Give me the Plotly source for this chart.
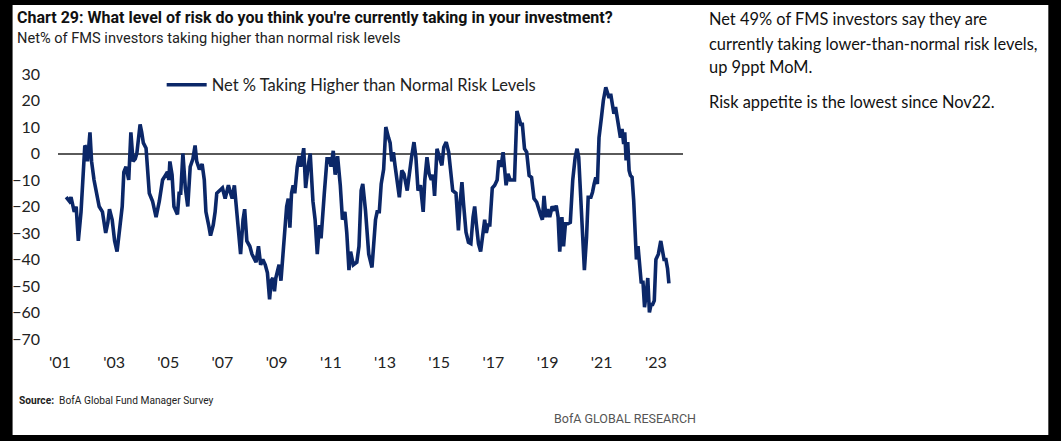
import plotly.graph_objects as go

# ---- data (decimal year, net %) ----
years = [
    2001.23, 2001.35, 2001.41, 2001.47, 2001.53, 2001.60, 2001.68, 2001.78, 2001.86, 2001.92,
    2001.98, 2002.02, 2002.11, 2002.17, 2002.26, 2002.36, 2002.45, 2002.57, 2002.69, 2002.77,
    2002.83, 2002.93, 2003.02, 2003.11, 2003.23, 2003.30, 2003.36, 2003.44, 2003.54, 2003.62,
    2003.70, 2003.78, 2003.84, 2003.96, 2004.02, 2004.08, 2004.18, 2004.30, 2004.42, 2004.55,
    2004.67, 2004.79, 2004.91, 2004.97, 2005.02, 2005.06, 2005.14, 2005.21, 2005.34, 2005.40,
    2005.46, 2005.54, 2005.63, 2005.72, 2005.81, 2005.91, 2005.99, 2006.05, 2006.15, 2006.25,
    2006.33, 2006.39, 2006.49, 2006.56, 2006.66, 2006.73, 2006.79, 2006.91, 2007.00, 2007.10,
    2007.22, 2007.30, 2007.36, 2007.44, 2007.48, 2007.58, 2007.67, 2007.76, 2007.82, 2007.90,
    2008.01, 2008.09, 2008.19, 2008.24, 2008.33, 2008.41, 2008.49, 2008.58, 2008.66, 2008.74,
    2008.80, 2008.86, 2008.92, 2008.97, 2009.04, 2009.09, 2009.16, 2009.25, 2009.31, 2009.37,
    2009.43, 2009.49, 2009.55, 2009.61, 2009.67, 2009.76, 2009.83, 2009.89, 2010.00, 2010.07,
    2010.16, 2010.24, 2010.34, 2010.42, 2010.50, 2010.58, 2010.64, 2010.70, 2010.76, 2010.86,
    2010.95, 2011.01, 2011.09, 2011.16, 2011.25, 2011.35, 2011.43, 2011.52, 2011.59, 2011.67,
    2011.73, 2011.83, 2011.96, 2012.04, 2012.12, 2012.18, 2012.28, 2012.40, 2012.52, 2012.65,
    2012.71, 2012.79, 2012.86, 2012.95, 2013.03, 2013.13, 2013.19, 2013.25, 2013.31, 2013.37,
    2013.46, 2013.53, 2013.62, 2013.70, 2013.82, 2013.92, 2013.98, 2014.07, 2014.14, 2014.22,
    2014.31, 2014.41, 2014.47, 2014.55, 2014.63, 2014.71, 2014.77, 2014.83, 2014.92, 2015.01,
    2015.10, 2015.17, 2015.26, 2015.35, 2015.42, 2015.50, 2015.62, 2015.71, 2015.77, 2015.84,
    2015.90, 2015.99, 2016.08, 2016.17, 2016.25, 2016.31, 2016.37, 2016.45, 2016.53, 2016.62,
    2016.68, 2016.74, 2016.80, 2016.87, 2016.96, 2017.05, 2017.14, 2017.20, 2017.28, 2017.36,
    2017.42, 2017.47, 2017.54, 2017.62, 2017.71, 2017.78, 2017.87, 2017.95, 2018.01, 2018.07,
    2018.15, 2018.23, 2018.32, 2018.41, 2018.50, 2018.60, 2018.68, 2018.75, 2018.81, 2018.87,
    2018.94, 2019.00, 2019.08, 2019.17, 2019.26, 2019.32, 2019.39, 2019.45, 2019.53, 2019.59,
    2019.66, 2019.75, 2019.84, 2019.93, 2020.02, 2020.09, 2020.15, 2020.24, 2020.30, 2020.36,
    2020.44, 2020.50, 2020.60, 2020.66, 2020.72, 2020.78, 2020.84, 2020.90, 2020.99, 2021.06,
    2021.15, 2021.21, 2021.27, 2021.33, 2021.39, 2021.45, 2021.51, 2021.57, 2021.63, 2021.69,
    2021.75, 2021.81, 2021.85, 2021.90, 2021.96, 2022.01, 2022.06, 2022.12, 2022.18, 2022.24,
    2022.28, 2022.34, 2022.40, 2022.46, 2022.52, 2022.58, 2022.64, 2022.70, 2022.76, 2022.82,
    2022.88, 2022.94, 2023.00, 2023.09, 2023.18, 2023.25, 2023.30, 2023.37, 2023.43, 2023.48,
]
net_pct = [
    -16.5, -18, -16.5, -19, -22, -20, -33, -22, -8, 3,
    2, -3, 8, -3, -10, -16, -20, -22, -30, -26,
    -21, -25, -33, -37, -25, -20, -7, -5, -10, 8,
    -3, -2, 0, 11, 8, 4, 2, -15, -18, -24,
    -18, -10, -8, -7, -10, -3, -8, -20, -23, -15,
    -15, 0, -13, -20, -5, -2, 3, -3, -6, -4,
    -10, -22, -27, -31, -27, -22, -15, -14, -13, -17,
    -12, -15, -17, -12, -17, -30, -38, -25, -21, -33,
    -35, -38, -40, -41, -35, -42, -40, -42, -45, -55,
    -48, -47, -52, -47, -44, -42, -48, -35, -25, -20,
    -17, -28, -15, -12, -15, -5, -1, -5, 2, -13,
    -5, 0, -18, -25, -38, -27, -32, -25, -15, -2,
    -2, -5, 1, -8, -1, -12, -25, -22, -30, -44,
    -37, -42, -41, -35, -14, -11.5, -21.5, -38, -43, -25,
    -22, -22, -11.5, -6, 10, 6, 4, -3, 0.5, -4.5,
    -12.7, -16.5, -6.4, -7.7, -14, -5, -1.4, 4.3, -1.4, -14,
    -12, -22, -10, -1.4, -7.7, -10, -8, -16, 1.8, -1.4,
    -4.5, 2.4, 4.3, 0.5, -5.8, -14, -15, -29, -19, -10.8,
    -19, -29.7, -33.5, -34, -24, -20, -26.5, -34, -37, -27.8,
    -25, -30, -27, -27, -13, -12, -10, -2.6, -5, 0.5,
    -5.8, -12, -7.7, -10, -10, -10, 16, 12.5, 11, 11,
    1.8, 0.5, -8.3, -9, -17, -18.4, -21.5, -23.4, -25, -16,
    -24, -21, -24, -20, -21.5, -19.6, -24, -37, -24, -35,
    -26.5, -26.5, -26, -10, -1.4, 1.8, -1.4, -20, -38, -44,
    -31.6, -16.5, -16.5, -14.6, -11.5, -9, -11.5, 6, 13.7, 20,
    25, 23, 21, 22.5, 17.5, 15, 17.5, 13, 10, 6,
    9.3, 3.6, 8, -2.6, 4.3, -6.4, -8.3, -9, -17.7, -30,
    -40, -35, -41.6, -49, -48, -58, -53, -47, -60, -57,
    -57, -55.5, -40, -38, -33, -37, -40, -40, -43.5, -49,
]
tick_years = list(range(2001, 2024, 2))
tick_labels = ["'%02d" % (y % 100) for y in tick_years]
y_ticks = list(range(-70, 31, 10))

series_name = "Net % Taking Higher than Normal Risk Levels"
title_text = "Chart 29: What level of risk do you think you're currently taking in your investment?"
subtitle_text = "Net% of FMS investors taking higher than normal risk levels"
side_lines = [
    "Net 49% of FMS investors say they are",
    "currently taking lower-than-normal risk levels,",
    "up 9ppt MoM.",
    "Risk appetite is the lowest since Nov22.",
]

# ---- layout geometry (pixels) ----
W, H = 1061, 441
L, R, T, B = 50, 683, 74, 339
def px(x):
    return (x - L) / (R - L)
def py(y):
    return (B - y) / (B - T)

NAVY = "#0b2768"
BODY = "Lato"
COND = "Roboto"

fig = go.Figure()
fig.add_trace(go.Scatter(
    x=years, y=net_pct, mode="lines", name=series_name,
    line=dict(color=NAVY, width=3.6), showlegend=True,
))

fig.update_layout(
    width=W, height=H,
    margin=dict(l=L, r=W - R, t=T, b=H - B, pad=0),
    paper_bgcolor="black", plot_bgcolor="white",
    font=dict(family=BODY, size=16, color="#222222"),
    showlegend=True,
    legend=dict(x=px(155), y=py(85), xanchor="left", yanchor="middle",
                bgcolor="rgba(0,0,0,0)", font=dict(family=BODY, size=16.5, color="#222222"),
                itemwidth=40),
    xaxis=dict(range=[2000.93, 2024.0], tickmode="array", tickvals=tick_years,
               ticktext=tick_labels, showgrid=False, zeroline=False, showline=False,
               ticks="", ticklabelstandoff=12, tickfont=dict(size=16, family=BODY)),
    yaxis=dict(range=[-70, 30], tickmode="array", tickvals=y_ticks, showgrid=False,
               zeroline=True, zerolinecolor="#5a5a5a", zerolinewidth=1.5,
               showline=False, ticks="", ticklabelstandoff=17,
               tickfont=dict(size=16, family=BODY)),
)

# white page inside the black frame
fig.add_shape(type="rect", xref="paper", yref="paper",
              x0=px(4), x1=px(1053), y0=py(435), y1=py(5),
              fillcolor="white", line=dict(width=0), layer="below")

ann = []
ann.append(dict(text="<b>" + title_text + "</b>", x=px(6), y=py(17), xanchor="left", yanchor="middle",
                font=dict(family=COND, size=16, color="#111111")))
ann.append(dict(text=subtitle_text, x=px(6), y=py(38), xanchor="left", yanchor="middle",
                font=dict(family=COND, size=14.6, color="#222222")))
side_y = [18, 43, 66, 101]
for t, yy in zip(side_lines, side_y):
    ann.append(dict(text=t, x=px(707), y=py(yy), xanchor="left", yanchor="middle",
                    font=dict(family=BODY, size=16.4, color="#111111")))
ann.append(dict(text="<b>Source:</b>  BofA Global Fund Manager Survey", x=px(8), y=py(400),
                xanchor="left", yanchor="middle", font=dict(family=COND, size=10.2, color="#222222")))
ann.append(dict(text="BofA GLOBAL RESEARCH", x=px(698), y=py(418), xanchor="right", yanchor="middle",
                font=dict(family=COND, size=12.5, color="#555555")))
for a in ann:
    a.update(xref="paper", yref="paper", showarrow=False)
fig.update_layout(annotations=ann)

fig.write_html("out.html", config={"displayModeBar": False},
               post_script="document.body.style.margin='0';document.body.style.background='black';")
